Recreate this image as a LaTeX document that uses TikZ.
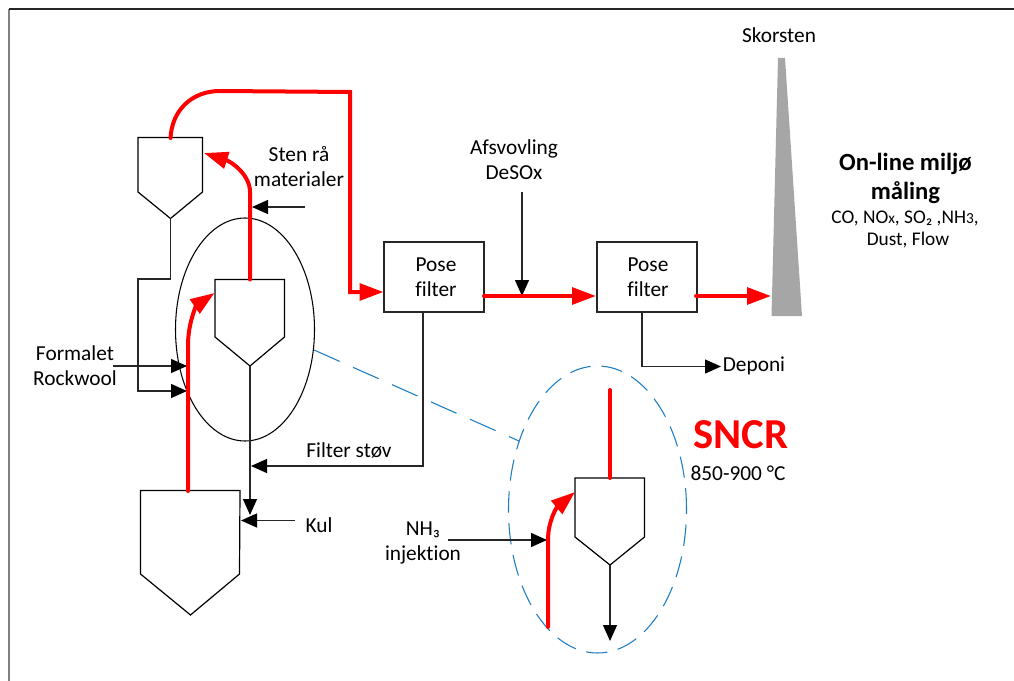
\documentclass[tikz,border=0pt]{standalone}
\usepackage{fontspec}
\setmainfont[Ligatures=NoCommon]{Carlito}
\usetikzlibrary{arrows.meta,shapes.geometric}
\definecolor{flow}{RGB}{255,0,0}
\definecolor{chim}{RGB}{166,166,166}
\definecolor{bluedash}{RGB}{30,125,195}
\tikzset{
  px/.style={x=0.75pt,y=-0.75pt},
  lab/.style={inner sep=0pt,align=center,font=\fontsize{16}{18.75}\selectfont,text=black},
  smalllab/.style={inner sep=0pt,align=center,font=\fontsize{14.5}{16.5}\selectfont,text=black},
  vessel/.style={draw=black,line width=0.9pt,line join=miter,fill=white},
  feed/.style={draw=black!85,line width=1pt,-{Triangle[length=12pt,width=10.5pt,color=black,fill=black]}},
  hot/.style={draw=flow,line width=3pt,line cap=round},
  hotarrow/.style={hot,-{Triangle[length=18pt,width=12.5pt]}},
  filterbox/.style={draw=black!85,line width=1pt,minimum width=75pt,minimum height=52.5pt,inner sep=0pt,fill=white,align=center},
  furnace/.style={draw=black,line width=0.8pt,ellipse,inner sep=0pt,minimum width=104.25pt,minimum height=167.25pt},
  zoomring/.style={draw=bluedash,line width=0.8pt,dash pattern=on 16pt off 8pt,ellipse,inner sep=0pt,minimum width=133.5pt,minimum height=215.25pt},
}
\begin{document}
\begin{tikzpicture}[px]
\useasboundingbox (0,0) rectangle (1014,681);
\fill[white] (0,0) rectangle (1014,681);
\draw[black!50,line width=1.3pt] (9,681) -- (9,9);
\draw[black!85,line width=1pt] (9,9) -- (1014,9);
% ellipses
\node[furnace] (furn) at (245,329.5) {};
\node[zoomring] (ring) at (597.5,509.5) {};
% hoppers
\coordinate (h1tl) at (138,137.5);\coordinate (h1tr) at (202.5,137.5);\coordinate (h1r) at (202.5,192);\coordinate (h1tip) at (170.5,218.5);\coordinate (h1l) at (138,192);
\draw[vessel] (h1tl) -- (h1tr) -- (h1r) -- (h1tip) -- (h1l) -- cycle;
\coordinate (h2tl) at (215,279.5);\coordinate (h2tr) at (284.5,279.5);\coordinate (h2r) at (284.5,337);\coordinate (h2tip) at (250,366);\coordinate (h2l) at (215,337);
\draw[vessel] (h2tl) -- (h2tr) -- (h2r) -- (h2tip) -- (h2l) -- cycle;
\coordinate (h3tl) at (140.5,490.5);\coordinate (h3tr) at (240,490.5);\coordinate (h3r) at (239.5,574);\coordinate (h3tip) at (190.5,615);\coordinate (h3l) at (140.5,574);
\draw[vessel] (h3tl) -- (h3tr) -- (h3r) -- (h3tip) -- (h3l) -- cycle;
\coordinate (h4tl) at (575,478);\coordinate (h4tr) at (644.5,478);\coordinate (h4r) at (644.5,537);\coordinate (h4tip) at (610,565);\coordinate (h4l) at (575,537);
\draw[vessel] (h4tl) -- (h4tr) -- (h4r) -- (h4tip) -- (h4l) -- cycle;
% filters
\node[filterbox] (pf1) at (434,277) {};
\node[filterbox] (pf2) at (647,277) {};
\node[lab,anchor=center] (pf1t) at (436,277) {Pose\\filter};
\node[lab,anchor=center] (pf2t) at (648,277) {Pose\\filter};
% chimney
\coordinate (cs1) at (778,58);\coordinate (cs2) at (785,58);\coordinate (cs3) at (802,316);\coordinate (cs4) at (771.5,316);
\fill[chim] (cs1) -- (cs2) -- (cs3) -- (cs4) -- cycle;
% black connections
\coordinate (j1) at (170.5,279);\coordinate (j2) at (138,279);\coordinate (j3) at (138,391);\coordinate (a1) at (187,391);
\draw[feed] (h1tip) -- (j1) -- (j2) -- (j3) -- (a1);
\coordinate (f0) at (113,366);\coordinate (a2) at (187,366);
\draw[feed] (f0) -- (a2);
\coordinate (a3) at (250,515);
\draw[feed] (h2tip) -- (a3);
\coordinate (pf1b) at (423,312);\coordinate (j4) at (423,466);\coordinate (a4) at (251,466);
\draw[feed] (pf1b) -- (j4) -- (a4);
\coordinate (k0) at (295,520.5);\coordinate (a5) at (241,520.5);
\draw[feed] (k0) -- (a5);
\coordinate (s0) at (305,207);\coordinate (a6) at (252,207);
\draw[feed] (s0) -- (a6);
\coordinate (af0) at (522,192);\coordinate (a7) at (522,296);
\draw[feed] (af0) -- (a7);
\coordinate (pf2b) at (642,312);\coordinate (j5) at (642,366.5);\coordinate (a8) at (721,366.5);
\draw[feed] (pf2b) -- (j5) -- (a8);
\coordinate (n0) at (448,540);\coordinate (a9) at (547,540);
\draw[feed] (n0) -- (a9);
\coordinate (a10) at (610,641);
\draw[feed] (h4tip) -- (a10);
% dashed leader
\coordinate (ld0) at (314,350);\coordinate (ld1) at (519,441);
\draw[draw=bluedash,line width=0.8pt,dash pattern=on 21pt off 11pt] (ld0) -- (ld1);
% red flows
\coordinate (r1a) at (188,491);\coordinate (r1b) at (188,345);\coordinate (r1c) at (214.5,293);
\draw[hotarrow] (r1a) -- (r1b) .. controls (188,322) and (197,305) .. (r1c);
\coordinate (r2a) at (250,279.5);\coordinate (r2b) at (250,192);\coordinate (r2c) at (204,153);
\draw[hotarrow] (r2a) -- (r2b) .. controls (250,175) and (232,162) .. (r2c);
\coordinate (r3a) at (170.5,138);\coordinate (r3b) at (220,91);\coordinate (r3c) at (350,92);\coordinate (r3d) at (350,292);\coordinate (r3e) at (383.5,292);
\draw[hotarrow,line join=miter] (r3a) .. controls (172,110) and (192,91) .. (r3b) -- (r3c) -- (r3d) -- (r3e);
\coordinate (r4a) at (484,296);\coordinate (r4b) at (596,296);
\draw[hotarrow] (r4a) -- (r4b);
\coordinate (r5a) at (696,296);\coordinate (r5b) at (771,296);
\draw[hotarrow] (r5a) -- (r5b);
\coordinate (r6a) at (610,390);\coordinate (r6b) at (610,478);
\draw[hot] (r6a) -- (r6b);
\coordinate (r7a) at (548,627);\coordinate (r7b) at (548,540);\coordinate (r7c) at (575,492);
\draw[hotarrow] (r7a) -- (r7b) .. controls (548,522) and (556,508) .. (r7c);
% labels
\node[lab] (tskor) at (779,35) {Skorsten};
\node[lab] (tafs) at (514,160) {Afsvovling\\DeSOx};
\node[lab] (tsten) at (299,167) {Sten rå\\materialer};
\node[lab] (tform) at (75,365.5) {Formalet\\Rockwool};
\node[lab] (tfilt) at (349,450) {Filter støv};
\node[lab] (tkul) at (319,525) {Kul};
\node[lab] (tdep) at (754,366) {Deponi};
\node[lab] (tnh) at (423,542.5) {NH₃\\injektion};
\node[lab] (ttemp) at (738,473) {850-900 °C};
\node[inner sep=0pt,text=flow,font=\fontsize{32}{34}\selectfont\bfseries] (tsncr) at (741,435) {SNCR};
\node[inner sep=0pt,align=center,font=\fontsize{18.5}{21.75}\selectfont\bfseries] (tonl) at (905.5,178) {On-line miljø\\måling};
\node[smalllab] (tgas) at (905,229.5) {CO, NO{\fontsize{11.5}{12}\selectfont x}, SO₂ ,NH{\fontsize{11.5}{12}\selectfont 3},\\\hspace*{4.5pt}Dust, Flow};
\end{tikzpicture}
\end{document}
